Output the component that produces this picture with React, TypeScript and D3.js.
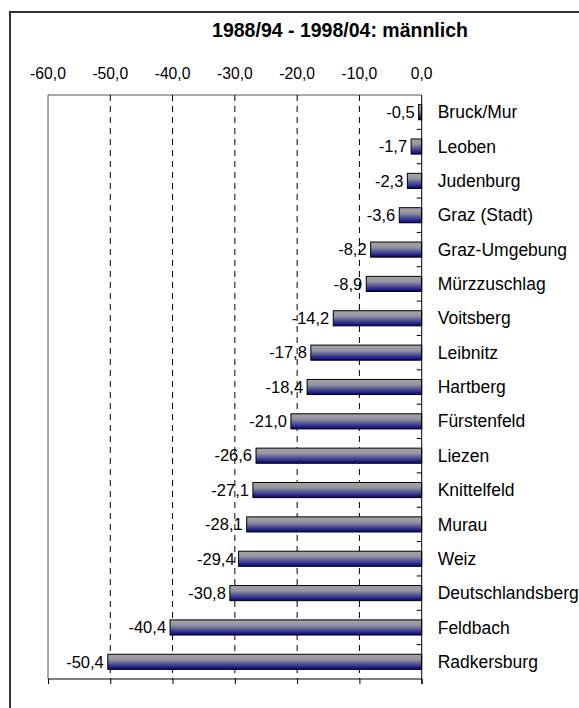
import * as d3 from "d3";
import { useEffect, useRef } from "react";

const categories = [
  "Bruck/Mur", "Leoben", "Judenburg", "Graz (Stadt)", "Graz-Umgebung", "Mürzzuschlag",
  "Voitsberg", "Leibnitz", "Hartberg", "Fürstenfeld", "Liezen", "Knittelfeld",
  "Murau", "Weiz", "Deutschlandsberg", "Feldbach", "Radkersburg",
];
const values = [
  -0.5, -1.7, -2.3, -3.6, -8.2, -8.9, -14.2, -17.8, -18.4, -21.0, -26.6, -27.1,
  -28.1, -29.4, -30.8, -40.4, -50.4,
];
const xTicks = [-60, -50, -40, -30, -20, -10, 0];
const title = "1988/94 - 1998/04: männlich";

const fmt = (v: number) => d3.format(".1f")(v).replace("−", "-").replace(".", ",");

const App = () => {
  const svgRef = useRef<SVGSVGElement>(null);

  useEffect(() => {
    const svg = d3.select(svgRef.current);
    svg.selectAll("*").remove();
    const width = 579;
    const height = 708;
    const plot = { left: 48, right: 421.7, top: 95, bottom: 679 };
    const font = "'Liberation Sans', Arial, sans-serif";

    const data = categories.map((c, i) => ({ name: c, value: values[i] }));

    const x = d3.scaleLinear().domain([-60, 0]).range([plot.left, plot.right]);
    const y = d3.scaleBand()
      .domain(categories)
      .range([plot.top, plot.bottom])
      .paddingInner(0.56)
      .paddingOuter(0.28);

    // gradient for bars
    const grad = svg.append("defs").append("linearGradient")
      .attr("id", "barGrad").attr("x1", 0).attr("y1", 0).attr("x2", 0).attr("y2", 1);
    grad.append("stop").attr("offset", "0%").attr("stop-color", "#a6a6a6");
    grad.append("stop").attr("offset", "35%").attr("stop-color", "#9494a4");
    grad.append("stop").attr("offset", "100%").attr("stop-color", "#000080");

    svg.append("rect").attr("width", width).attr("height", height).attr("fill", "#fff");

    // outer frame (clipped at right and bottom)
    svg.append("rect")
      .attr("x", 10).attr("y", 12).attr("width", 600).attr("height", 720)
      .attr("fill", "none").attr("stroke", "#333").attr("stroke-width", 2);

    svg.append("text")
      .attr("x", 340).attr("y", 37)
      .attr("text-anchor", "middle")
      .attr("font-family", font).attr("font-weight", "bold").attr("font-size", 19.5)
      .text(title);

    // plot border top and left
    svg.append("path")
      .attr("d", `M${plot.left},${plot.bottom}V${plot.top}H${plot.right}`)
      .attr("fill", "none").attr("stroke", "#555").attr("stroke-width", 1);

    // dashed gridlines
    svg.append("g")
      .selectAll("line")
      .data(xTicks.filter((t) => t !== -60 && t !== 0))
      .join("line")
      .attr("x1", (d) => x(d)).attr("x2", (d) => x(d))
      .attr("y1", plot.top).attr("y2", plot.bottom)
      .attr("stroke", "#000").attr("stroke-dasharray", "6,5");

    // tick labels on top
    svg.append("g")
      .selectAll("text")
      .data(xTicks)
      .join("text")
      .attr("x", (d) => x(d)).attr("y", 79)
      .attr("text-anchor", "middle")
      .attr("font-family", font).attr("font-size", 15.7)
      .text((d) => fmt(d));

    // bottom axis line and ticks
    svg.append("g")
      .attr("transform", `translate(0, ${plot.bottom})`)
      .call(d3.axisBottom(x).tickValues(xTicks).tickSize(5).tickFormat(() => ""))
      .call((g) => g.select(".domain").attr("d", `M${plot.left},0H${plot.right}`));

    // bars
    svg.append("g")
      .selectAll("rect")
      .data(data)
      .join("rect")
      .attr("x", (d) => x(d.value))
      .attr("y", (d) => y(d.name)!)
      .attr("width", (d) => x(0) - x(d.value))
      .attr("height", y.bandwidth())
      .attr("fill", "url(#barGrad)")
      .attr("stroke", "#000").attr("stroke-width", 1);

    // value labels
    svg.append("g")
      .selectAll("text")
      .data(data)
      .join("text")
      .attr("x", (d) => x(d.value) - 4)
      .attr("y", (d) => y(d.name)! + y.bandwidth() / 2)
      .attr("dy", "0.35em")
      .attr("text-anchor", "end")
      .attr("font-family", font).attr("font-size", 16.5)
      .text((d) => fmt(d.value));

    // y axis at zero with boundary ticks
    const step = y.step();
    const bounds = d3.range(categories.length + 1).map((i) => plot.top + i * step);
    const yAxis = svg.append("g");
    yAxis.append("line")
      .attr("x1", plot.right).attr("x2", plot.right)
      .attr("y1", plot.top).attr("y2", plot.bottom + 5)
      .attr("stroke", "#000");
    yAxis.selectAll("line.tk")
      .data(bounds.slice(1, -1))
      .join("line")
      .attr("class", "tk")
      .attr("x1", plot.right - 5).attr("x2", plot.right)
      .attr("y1", (d) => d).attr("y2", (d) => d)
      .attr("stroke", "#000");

    // category labels
    svg.append("g")
      .selectAll("text")
      .data(categories)
      .join("text")
      .attr("x", plot.right + 16)
      .attr("y", (d) => y(d)! + y.bandwidth() / 2)
      .attr("dy", "0.35em")
      .attr("font-family", font).attr("font-size", 17.5)
      .text((d) => d);
  }, []);

  return (
    <svg ref={svgRef} width={579} height={708}
      style={{ position: "absolute", left: 0, top: 0, display: "block" }} />
  );
};
export default App;
